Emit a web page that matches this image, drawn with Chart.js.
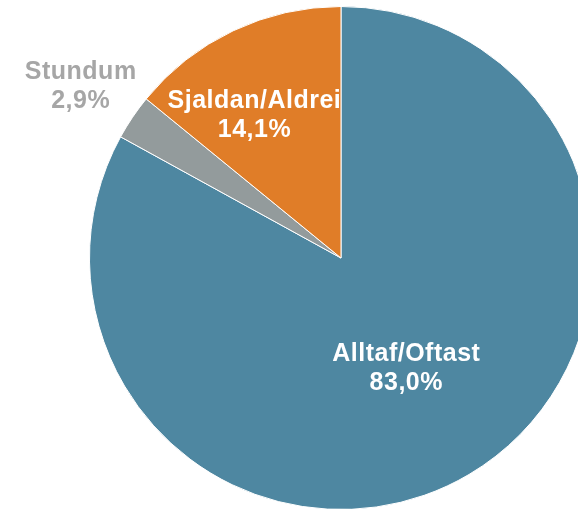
<!DOCTYPE html>
<html>
<head>
<meta charset="utf-8">
<script src="https://cdn.jsdelivr.net/npm/chart.js@4/dist/chart.umd.min.js"></script>
<style>
  html, body { margin: 0; padding: 0; background: #fff; overflow: hidden; }
  body { width: 578px; height: 509px; position: relative; }
  #wrap { position: absolute; left: 0; top: 0; width: 682px; height: 516px; }
</style>
</head>
<body>
<div id="wrap"><canvas id="pie"></canvas></div>
<script>
/// Categories and shares (percent), clockwise from 12 o'clock
const categories = ["Alltaf/Oftast", "Stundum", "Sjaldan/Aldrei"];
const shares = [83.0, 2.9, 14.1];
const valueLabels = ["83,0%", "2,9%", "14,1%"];

const SLICE_COLORS = ["#4E87A1", "#939B9C", "#E07D28"];

/// Label placement per slice: radial fraction, angle shift (deg), text colour, clip to slice
const LABEL_STYLE = [
  { dist: 0.51, shift: 0, color: "#ffffff", clip: true },
  { dist: 1.24, shift: -0.6, color: "#A6A6A6", clip: false },
  { dist: 0.663, shift: -5.9, color: "#ffffff", clip: true }
];

// ── Label plugin ────────────────────────────────────────────────────

const sliceLabels = {
  id: "sliceLabels",
  afterDatasetsDraw(chart) {
    const ctx = chart.ctx;
    const meta = chart.getDatasetMeta(0);
    meta.data.forEach((arc, i) => {
      const st = LABEL_STYLE[i];
      const p = arc.getProps(["x", "y", "startAngle", "endAngle", "outerRadius"], true);
      const mid = (p.startAngle + p.endAngle) / 2 + st.shift * Math.PI / 180;
      const r = p.outerRadius * st.dist;
      const lx = p.x + Math.cos(mid) * r;
      const ly = p.y + Math.sin(mid) * r;

      ctx.save();
      if (st.clip) {
        ctx.beginPath();
        ctx.moveTo(p.x, p.y);
        ctx.arc(p.x, p.y, p.outerRadius, p.startAngle, p.endAngle);
        ctx.closePath();
        ctx.clip();
      }
      ctx.fillStyle = st.color;
      ctx.font = "bold 25px 'Liberation Sans', Arial, sans-serif";
      ctx.letterSpacing = "0.5px";
      ctx.textAlign = "center";
      ctx.textBaseline = "middle";
      ctx.fillText(categories[i], lx, ly - 14.5);
      ctx.fillText(valueLabels[i], lx, ly + 14.5);
      ctx.restore();
    });
  }
};

new Chart(document.getElementById("pie"), {
  type: "pie",
  data: {
    labels: categories,
    datasets: [{
      data: shares,
      backgroundColor: SLICE_COLORS,
      borderColor: "#ffffff",
      borderWidth: 1
    }]
  },
  options: {
    animation: false,
    responsive: true,
    maintainAspectRatio: false,
    layout: { padding: 6 },
    plugins: {
      legend: { display: false },
      tooltip: { enabled: false }
    }
  },
  plugins: [sliceLabels]
});
</script>
</body>
</html>
